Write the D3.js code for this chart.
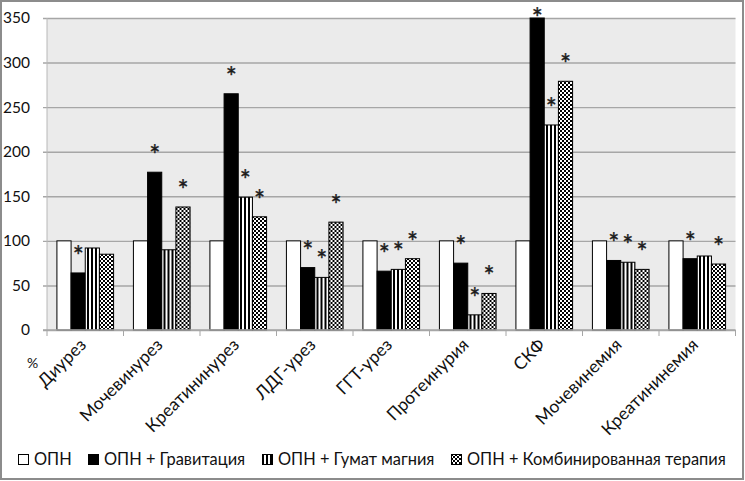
<!DOCTYPE html>
<html><head><meta charset="utf-8">
<script src="https://cdn.jsdelivr.net/npm/d3@7"></script>
<style>
html,body{margin:0;padding:0;background:#fff;}
svg{display:block;}
text{font-family:Lato,"Open Sans",sans-serif;fill:#111;}
</style></head>
<body>
<script>
const categories = ["Диурез","Мочевинурез","Креатининурез","ЛДГ-урез","ГГТ-урез","Протеинурия","СКФ","Мочевинемия","Креатининемия"];
const seriesNames = ["ОПН","ОПН + Гравитация","ОПН + Гумат магния","ОПН + Комбинированная терапия"];
const opn          = [100,100,100,100,100,100,100,100,100];
const gravitation  = [64,177,265,70,66,75,350,78,80];
const humate       = [92,90,149,59,68,17,230,76,83];
const combined     = [85,138,127,121,80,41,279,68,74];
// significance marks (1 = "*") per series
const starsOpn     = [0,0,0,0,0,0,0,0,0];
const starsGrav    = [1,1,1,1,1,1,1,1,1];
const starsHumate  = [0,0,1,1,1,1,1,1,0];
const starsComb    = [0,1,1,1,1,1,1,1,1];
const yTicks = [0,50,100,150,200,250,300,350];

(function(){
const W = 745, H = 481;
const svg = d3.select("body").append("svg").attr("width",W).attr("height",H);
const defs = svg.append("defs");
const pv = defs.append("pattern").attr("id","pv").attr("patternUnits","userSpaceOnUse").attr("width",4).attr("height",4);
pv.append("rect").attr("width",4).attr("height",4).attr("fill","#fff");
pv.append("rect").attr("width",2).attr("height",4).attr("fill","#000");
const pc = defs.append("pattern").attr("id","pc").attr("patternUnits","userSpaceOnUse").attr("width",4).attr("height",4);
pc.append("rect").attr("width",4).attr("height",4).attr("fill","#fff");
pc.append("rect").attr("width",2).attr("height",2).attr("fill","#000");
pc.append("rect").attr("x",2).attr("y",2).attr("width",2).attr("height",2).attr("fill","#000");
const fills = ["#fff","#000","url(#pv)","url(#pc)"];

// outer border
svg.append("rect").attr("x",1).attr("y",1).attr("width",W-3).attr("height",H-3)
  .attr("fill","#fff").attr("stroke","#8c8c8c").attr("stroke-width",2);

const pl = 47, pr = 735.5, pt = 18, pb = 330;
const x0 = d3.scaleBand().domain(categories).range([pl,pr]).padding(0);
const x1 = d3.scaleBand().domain(d3.range(4)).range([0,x0.bandwidth()]).paddingInner(0).paddingOuter(0.7);
const y = d3.scaleLinear().domain([0,350]).range([pb,pt]);

svg.append("rect").attr("x",pl).attr("y",pt).attr("width",pr-pl).attr("height",pb-pt).attr("fill","#ebebeb");

// grid + y axis
const yAxis = d3.axisLeft(y).tickValues(yTicks).tickSize(-(pr-pl)).tickPadding(12).tickFormat(d3.format("d"));
const gy = svg.append("g").attr("transform",`translate(${pl},0)`).call(yAxis);
gy.select(".domain").remove();
gy.selectAll(".tick line").attr("x1",-4).attr("stroke","#a6a6a6").attr("stroke-width",1.4);
gy.selectAll(".tick text").attr("font-size",15.5).attr("font-family","Lato").attr("fill","#111").attr("x",-17);
svg.append("line").attr("x1",pl).attr("x2",pl).attr("y1",pt).attr("y2",pb).attr("stroke","#b8b8b8");

// x axis ticks at category boundaries
const bounds = categories.map(c=>x0(c)).concat([pr]);
svg.append("g").selectAll("line").data(bounds).join("line")
  .attr("x1",d=>d).attr("x2",d=>d).attr("y1",pb).attr("y2",pb+6).attr("stroke","#a6a6a6");

const seriesVals = [opn,gravitation,humate,combined];
const seriesStars = [starsOpn,starsGrav,starsHumate,starsComb];

const groups = svg.append("g").selectAll("g").data(categories).join("g")
  .attr("transform",c=>`translate(${x0(c)},0)`);
groups.selectAll("rect").data((c,i)=>seriesVals.map((s,k)=>({k,v:s[i]}))).join("rect")
  .attr("x",d=>x1(d.k)).attr("width",x1.bandwidth())
  .attr("y",d=>y(d.v)).attr("height",d=>pb-y(d.v))
  .attr("fill",d=>fills[d.k]).attr("stroke","#000").attr("stroke-width",1);

// stars
groups.selectAll("text.star").data((c,i)=>seriesVals.map((s,k)=>({k,v:s[i],st:seriesStars[k][i]})).filter(d=>d.st))
  .join("text").attr("class","star")
  .attr("x",d=>x1(d.k)+x1.bandwidth()/2)
  .attr("y",d=>Math.max(13,y(d.v)-22)+15)
  .attr("text-anchor","middle").attr("font-size",26).attr("font-family","DejaVu Sans")
  .style("fill","#1a1a1a").style("stroke","#1a1a1a").style("stroke-width",0.4)
  .text("*");

// x axis baseline
svg.append("line").attr("x1",pl-4).attr("x2",pr).attr("y1",pb).attr("y2",pb).attr("stroke","#a6a6a6").attr("stroke-width",1.4);

// category labels
svg.append("g").selectAll("text").data(categories).join("text")
  .attr("transform",c=>`translate(${x0(c)+x0.bandwidth()/2+2},${pb+16}) rotate(-45)`)
  .attr("text-anchor","end").attr("font-size",17.5).attr("font-family","Lato").text(c=>c);

svg.append("text").attr("x",27).attr("y",368).attr("font-size",14).attr("font-family","Lato").text("%");

// legend
const legX = [18,88,262,451];
const leg = svg.append("g").selectAll("g").data(seriesNames).join("g")
  .attr("transform",(d,i)=>`translate(${legX[i]},454)`);
leg.append("rect").attr("x",0.5).attr("y",0.5).attr("width",10).attr("height",10)
  .attr("fill",(d,i)=>fills[i]).attr("stroke","#000");
leg.append("text").attr("x",16).attr("y",11).attr("font-size",16.4).attr("font-family","Lato").text(d=>d);
})();
</script>
</body></html>
